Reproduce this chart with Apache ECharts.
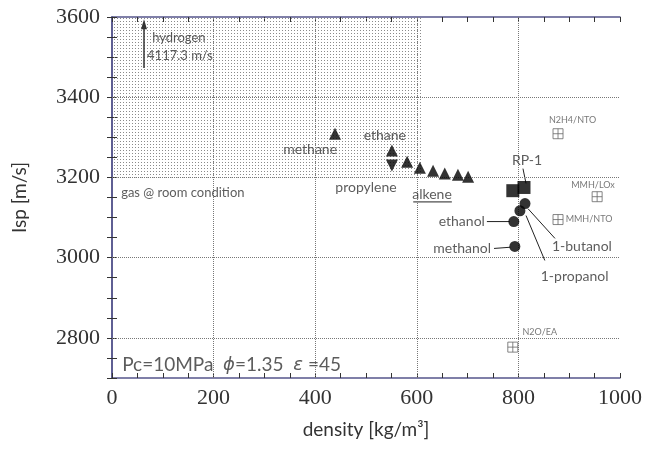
<!DOCTYPE html>
<html>
<head>
<meta charset="utf-8">
<script src="https://cdn.jsdelivr.net/npm/echarts@6/dist/echarts.min.js"></script>
<style>
html,body{margin:0;padding:0;background:#fff;}
#main{width:656px;height:450px;}
</style>
</head>
<body>
<div id="main"></div>
<script>
//grid values
var xGridValues = [200, 400, 600, 800];
var yGridValues = [2800, 3000, 3200, 3400];

//hydrocarbons: [density, Isp]
var hydrocarbonData = [[439,3309],[551,3267],[581,3239],[606,3224],[632,3217],[655,3210],[681,3207],[701,3202]];
var propyleneData = [[551,3230]];
var rp1Data = [[789,3167],[811,3175]];
//methanol, ethanol, 1-propanol, 1-butanol
var alcoholNames = ['methanol','ethanol','1-propanol','1-butanol'];
var alcoholData = [[793,3028],[791,3090],[803,3117],[813,3135]];
//reference propellants
var refNames = ['N2H4/NTO','MMH/LOx','MMH/NTO','N2O/EA'];
var refData = [[878,3309],[955,3152],[878,3095],[789,2777]];
//gas @ room condition region
var gasRegion = [[0,3200],[610,3600]];
var hydrogenIsp = 4117.3;

var sansFont = 'Lato';
var textColor = '#333';
var frameColor = '#55558c';

window.onload = function(){
	initPage();
};

function initPage(){
	buildEchart();
}

/**
 * dotted fill for the gas region
 */
function makeDotPattern(){
	var c = document.createElement('canvas');
	c.width = 3;
	c.height = 3;
	var ctx = c.getContext('2d');
	ctx.fillStyle = '#8a8a8a';
	ctx.fillRect(0, 0, 1, 1);
	return c;
}

/**
 * text notes placed in data coordinates
 */
function noteSeries(notes){
	return {
		type: 'scatter',
		silent: true,
		symbolSize: 1,
		itemStyle: {color: 'transparent'},
		z: 6,
		data: notes.map(function(n){
			return {
				value: n.at,
				label: {
					show: true,
					position: 'inside',
					formatter: n.text,
					align: n.align || 'center',
					verticalAlign: 'middle',
					fontFamily: sansFont,
					fontSize: n.size || 13,
					color: n.color || textColor,
					rich: n.rich
				}
			};
		})
	};
}

function leaderSeries(pts){
	return {
		type: 'line',
		silent: true,
		symbol: 'none',
		z: 4,
		lineStyle: {color: '#222', width: 1},
		data: pts
	};
}

function frameAxis(pos, isX){
	var ax = {
		type: 'value',
		position: pos,
		min: isX ? 0 : 2700,
		max: isX ? 1000 : 3600,
		interval: isX ? 200 : 100,
		axisLine: {show: true, lineStyle: {color: frameColor, width: 1.5}},
		axisTick: {show: true, inside: true, length: 5, lineStyle: {color: '#333', width: 1}},
		minorTick: {show: true, splitNumber: isX ? 4 : 2, length: 5, lineStyle: {color: '#333', width: 1}},
		splitLine: {show: false},
		axisLabel: {show: false}
	};
	return ax;
}

function buildEchart(){
	var myChart = echarts.init(document.getElementById('main'));

	var xBottom = frameAxis('bottom', true);
	xBottom.name = 'density [kg/m³]';
	xBottom.nameLocation = 'middle';
	xBottom.nameGap = 42;
	xBottom.nameTextStyle = {fontFamily: sansFont, fontSize: 19, color: textColor};
	xBottom.axisLabel = {
		show: true, margin: 9, fontFamily: 'Liberation Serif', fontSize: 22, color: textColor,
		formatter: function(v){ return String(v); }
	};

	var yLeft = frameAxis('left', false);
	yLeft.name = 'Isp [m/s]';
	yLeft.nameLocation = 'middle';
	yLeft.nameGap = 83;
	yLeft.nameTextStyle = {fontFamily: sansFont, fontSize: 19, color: textColor};
	yLeft.axisLabel = {
		show: true, margin: 12, fontFamily: 'Liberation Serif', fontSize: 22, color: textColor,
		formatter: function(v){ return (v % 200 === 0) ? String(v) : ''; }
	};

	var xTop = frameAxis('top', true);
	var yRight = frameAxis('right', false);

	var gridLineStyle = {type: 'dotted', color: '#777', width: 1};

	var notes = [
		{text: 'hydrogen', at: [79, 3548], align: 'left'},
		{text: hydrogenIsp + ' m/s', at: [69, 3503], align: 'left'},
		{text: 'methane', at: [390, 3269], size: 14},
		{text: 'ethane', at: [537, 3304], size: 14},
		{text: 'propylene', at: [500, 3175], size: 14},
		{text: 'alkene', at: [630, 3157], size: 14},
		{text: 'gas @ room condition', at: [18, 3162], align: 'left'},
		{text: 'RP-1', at: [817, 3242], size: 14},
		{text: alcoholNames[1], at: [734, 3090], align: 'right', size: 14},
		{text: alcoholNames[0], at: [746, 3022], align: 'right', size: 14},
		{text: alcoholNames[3], at: [866, 3027], align: 'left', size: 14},
		{text: alcoholNames[2], at: [844, 2952], align: 'left', size: 14},
		{text: refNames[0], at: [860, 3344], align: 'left', size: 9, color: '#555'},
		{text: refNames[1], at: [904, 3182], align: 'left', size: 9, color: '#555'},
		{text: refNames[2], at: [893, 3095], align: 'left', size: 9, color: '#555'},
		{text: refNames[3], at: [808, 2815], align: 'left', size: 9, color: '#555'},
		{
			text: 'Pc=10MPa  {i|ϕ}=1.35  {i|ε} =45', at: [20, 2732], align: 'left', size: 19,
			rich: {i: {fontStyle: 'italic', fontFamily: 'DejaVu Sans', fontSize: 18, color: textColor}}
		}
	];

	var option = {
		animation: false,
		backgroundColor: '#fff',
		grid: {left: 112, right: 36, top: 17, bottom: 72},
		xAxis: [xBottom, xTop],
		yAxis: [yLeft, yRight],
		series: [
			{
				//region + grid lines
				type: 'scatter',
				silent: true,
				data: [],
				z: 1,
				markArea: {
					silent: true,
					itemStyle: {color: {image: makeDotPattern(), repeat: 'repeat'}},
					data: [[{coord: gasRegion[0]}, {coord: gasRegion[1]}]]
				},
				markLine: {
					silent: true,
					symbol: 'none',
					label: {show: false},
					lineStyle: gridLineStyle,
					data: xGridValues.map(function(v){ return {xAxis: v}; })
						.concat(yGridValues.map(function(v){ return {yAxis: v}; }))
				}
			},
			{
				//hydrogen arrow
				type: 'scatter',
				silent: true,
				data: [],
				markLine: {
					silent: true,
					symbol: ['none', 'triangle'],
					symbolSize: [6, 10],
					label: {show: false},
					lineStyle: {type: 'solid', color: '#333', width: 1.5},
					data: [[{coord: [63, 3473]}, {coord: [63, 3582]}]]
				}
			},
			leaderSeries([[738, 3090], [783, 3090]]),
			leaderSeries([[752, 3023], [784, 3026]]),
			leaderSeries([[819, 3122], [872, 3048]]),
			leaderSeries([[815, 3105], [852, 2993]]),
			leaderSeries([[809, 3222], [815, 3185]]),
			leaderSeries([[593, 3139], [669, 3139]]),
			{
				name: 'hydrocarbon',
				type: 'scatter',
				symbol: 'triangle',
				symbolSize: 12,
				itemStyle: {color: '#000'},
				z: 5,
				data: hydrocarbonData
			},
			{
				name: 'propylene',
				type: 'scatter',
				symbol: 'triangle',
				symbolRotate: 180,
				symbolSize: 12,
				itemStyle: {color: '#000'},
				z: 5,
				data: propyleneData
			},
			{
				name: 'RP-1',
				type: 'scatter',
				symbol: 'rect',
				symbolSize: 13,
				itemStyle: {color: '#000'},
				z: 5,
				data: rp1Data
			},
			{
				name: 'alcohol',
				type: 'scatter',
				symbol: 'circle',
				symbolSize: 11,
				itemStyle: {color: '#000'},
				z: 5,
				data: alcoholData
			},
			{
				name: 'reference',
				type: 'scatter',
				symbol: 'path://M0,0L10,0L10,10L0,10Z M5,0L5,10 M0,5L10,5',
				symbolSize: 10,
				itemStyle: {color: 'transparent', borderColor: '#666', borderWidth: 1},
				z: 5,
				data: refData
			},
			noteSeries(notes)
		]
	};

	myChart.setOption(option);
}
</script>
</body>
</html>
